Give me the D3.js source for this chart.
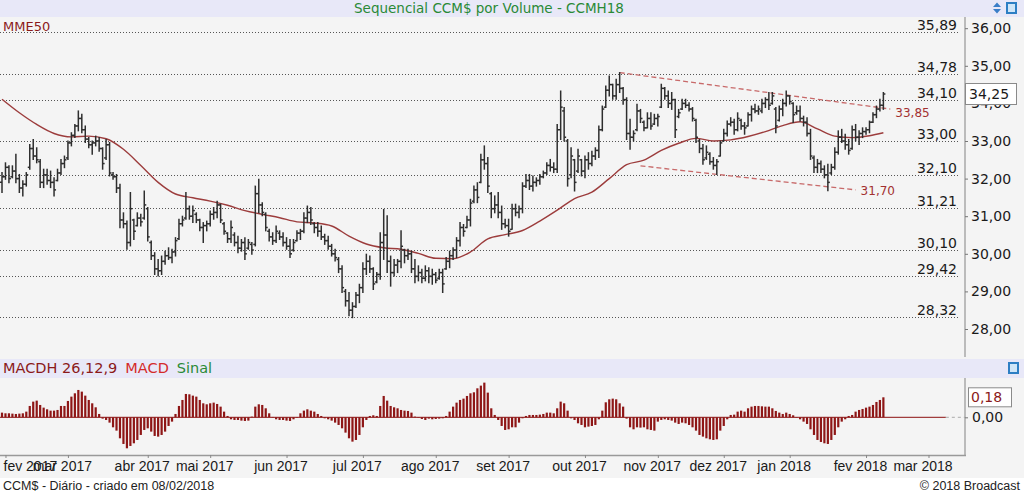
<!DOCTYPE html>
<html><head><meta charset="utf-8">
<script src="https://cdn.jsdelivr.net/npm/d3@7"></script>
<style>body{margin:0;background:#fff;} svg{display:block;}</style>
</head><body><svg id="c" width="1024" height="493"></svg>
<script>
const highs = [32.16,32.42,32.34,32.34,32.65,32.11,31.94,32.16,32.91,33.04,
32.82,32.51,32.25,32.25,32.20,32.02,32.25,32.51,32.60,33.00,
33.22,33.44,33.80,33.71,33.40,33.09,33.00,33.13,33.09,32.82,
33.04,32.96,32.16,32.11,31.85,31.09,30.87,31.63,30.92,31.09,
31.05,31.67,31.23,30.34,30.03,29.85,29.94,30.07,30.16,30.12,
30.43,30.92,31.00,31.63,31.27,31.27,31.09,30.92,30.83,30.87,
31.14,31.23,31.40,31.32,30.83,30.56,30.87,30.56,30.47,30.38,
30.43,30.38,30.30,31.80,31.98,31.36,31.09,30.65,30.56,30.74,
30.61,30.56,30.43,30.38,30.38,30.61,30.65,31.09,31.27,31.23,
30.83,30.83,30.74,30.52,30.47,30.25,30.12,29.90,29.68,29.05,
28.97,28.70,28.97,29.19,29.76,29.99,29.94,29.63,29.50,30.56,
31.18,31.01,29.94,29.85,29.85,30.61,30.12,30.12,30.07,29.85,
29.68,29.59,29.68,29.63,29.59,29.50,29.59,29.59,29.90,30.07,
30.16,30.43,30.83,30.78,31.00,31.45,31.80,31.89,32.65,32.87,
32.56,31.63,31.54,31.63,31.27,30.92,30.92,31.32,31.32,31.27,
31.89,32.11,32.11,32.07,32.02,32.11,32.20,32.42,32.51,32.42,
33.44,34.33,33.89,33.04,32.82,32.51,32.78,32.51,32.60,32.69,
32.73,32.82,33.40,33.93,34.46,34.73,34.51,34.64,34.82,34.42,
34.15,33.58,33.27,33.98,33.84,33.53,33.75,33.75,33.71,33.71,
34.51,34.42,34.33,34.29,34.11,33.84,34.11,34.11,34.02,33.89,
33.58,33.04,32.91,32.87,32.69,32.56,32.51,33.00,33.31,33.53,
33.62,33.58,33.75,33.58,33.49,33.75,33.93,33.98,33.93,34.11,
34.15,34.29,34.29,33.89,33.93,34.11,34.33,34.20,34.02,33.93,
33.93,33.66,33.62,33.31,32.60,32.51,32.47,32.34,32.38,32.38,
32.82,33.27,33.31,33.18,33.04,33.40,33.44,33.27,33.35,33.35,
33.53,33.75,33.93,34.11,34.29];
const lows = [31.63,31.98,31.89,32.02,31.89,31.63,31.54,31.80,32.25,32.51,
32.42,31.76,31.76,31.85,31.76,31.54,31.94,32.11,32.29,32.51,
32.87,33.09,33.27,33.22,32.96,32.82,32.65,32.87,32.73,32.25,
32.51,32.07,31.98,31.63,30.69,30.69,30.12,30.21,30.38,30.74,
30.74,30.92,30.34,29.85,29.45,29.41,29.45,29.72,29.85,29.76,
29.94,30.38,30.74,30.92,30.92,30.83,30.83,30.61,30.30,30.61,
30.74,30.92,30.96,30.83,30.52,30.30,30.30,30.21,30.03,30.07,
29.85,30.12,29.99,30.21,31.09,31.01,30.61,30.34,30.25,30.30,
30.38,30.21,30.12,29.90,30.07,30.34,30.38,30.56,30.83,30.78,
30.56,30.47,30.38,30.25,30.12,29.94,29.81,29.50,28.97,28.61,
28.35,28.30,28.57,28.70,28.97,29.45,29.50,29.05,29.23,29.32,
29.85,29.50,29.14,29.41,29.50,29.63,29.76,29.85,29.50,29.23,
29.28,29.23,29.28,29.23,29.19,29.23,29.32,28.97,29.59,29.63,
29.85,29.90,30.21,30.47,30.69,30.74,31.36,31.36,31.89,32.25,
31.63,30.96,31.09,30.96,30.65,30.69,30.47,30.65,31.01,30.96,
31.09,31.76,31.71,31.67,31.80,31.85,32.02,32.11,32.20,32.16,
32.16,33.04,33.00,31.80,32.02,31.67,32.16,32.07,32.02,32.25,
32.34,32.51,32.56,33.27,33.89,34.20,34.11,34.11,34.29,33.98,
33.04,32.78,33.00,33.27,33.49,33.27,33.35,33.31,33.44,33.40,
33.89,34.11,33.89,33.84,33.09,33.62,33.84,33.89,33.80,33.53,
32.96,32.69,32.38,32.51,32.38,32.25,32.11,32.60,33.00,33.13,
33.40,33.18,33.27,33.31,33.18,33.40,33.53,33.75,33.71,33.75,
33.89,33.84,33.98,33.22,33.53,33.67,33.93,33.98,33.49,33.71,
33.53,33.40,33.13,32.51,32.16,32.16,32.16,32.02,31.68,32.11,
32.25,32.65,32.96,32.78,32.65,32.78,33.00,32.91,33.09,33.18,
33.22,33.49,33.62,33.80,33.84];
const opens = [31.90,32.05,32.30,32.05,32.20,32.00,31.75,31.85,32.30,32.80,
32.60,32.45,31.90,32.10,31.95,31.90,31.95,32.15,32.40,32.55,
32.95,33.15,33.40,33.60,33.30,33.05,32.90,32.95,33.00,32.80,
32.55,32.90,32.10,32.05,31.75,30.90,30.80,30.30,30.90,30.75,
30.95,30.95,31.20,30.30,29.95,29.60,29.55,29.80,29.95,29.90,
30.05,30.40,30.80,30.95,31.20,31.00,31.05,30.90,30.70,30.75,
30.80,31.05,31.10,31.30,30.80,30.55,30.40,30.50,30.30,30.15,
30.30,30.15,30.25,30.25,31.60,31.30,31.05,30.60,30.45,30.35,
30.55,30.45,30.30,30.20,30.10,30.35,30.55,30.60,30.95,31.10,
30.80,30.70,30.60,30.45,30.35,30.20,30.00,29.85,29.60,29.00,
28.75,28.50,28.60,28.90,29.10,29.60,29.80,29.60,29.25,29.45,
30.30,30.50,29.80,29.50,29.70,29.80,30.10,29.95,30.00,29.60,
29.40,29.50,29.35,29.55,29.40,29.45,29.35,29.50,29.60,29.80,
29.95,30.10,30.35,30.70,30.70,30.90,31.40,31.70,31.90,32.50,
32.40,31.60,31.20,31.30,31.10,30.80,30.75,30.65,31.20,31.10,
31.20,31.80,31.95,31.80,31.90,31.95,32.05,32.15,32.35,32.30,
32.25,33.30,33.80,33.00,32.10,32.50,32.20,32.50,32.20,32.50,
32.40,32.60,32.75,33.30,33.90,34.35,34.50,34.20,34.50,34.40,
34.10,33.20,33.10,33.30,33.80,33.50,33.35,33.60,33.45,33.60,
33.90,34.40,34.20,34.00,34.10,33.65,33.85,34.00,33.95,33.85,
33.55,33.00,32.80,32.55,32.65,32.45,32.35,32.60,33.00,33.20,
33.45,33.50,33.30,33.55,33.40,33.40,33.70,33.85,33.80,33.80,
34.00,34.10,34.00,33.85,33.55,33.85,34.00,34.20,34.00,33.75,
33.80,33.60,33.50,33.20,32.55,32.30,32.40,32.25,32.10,32.15,
32.30,32.70,33.10,33.00,32.90,32.80,33.30,33.10,33.20,33.25,
33.30,33.50,33.70,33.85,33.95];
const closes = [32.05,32.30,32.00,32.20,32.00,31.75,31.85,32.10,32.80,32.60,
32.50,31.90,32.10,31.95,31.90,31.70,32.15,32.40,32.50,32.95,
33.15,33.40,33.60,33.30,33.05,32.90,32.95,33.00,32.80,32.40,
32.90,32.15,32.05,31.75,30.90,30.80,30.30,31.20,30.60,30.95,
30.85,31.30,30.45,29.95,29.60,29.55,29.80,29.95,29.90,30.05,
30.35,30.80,30.90,31.20,31.00,31.15,30.90,30.70,30.75,30.80,
31.05,31.10,31.30,30.90,30.60,30.40,30.70,30.30,30.15,30.30,
30.00,30.30,30.10,31.60,31.30,31.10,30.70,30.45,30.35,30.60,
30.45,30.30,30.20,30.00,30.30,30.55,30.60,30.95,31.10,30.90,
30.70,30.60,30.45,30.35,30.20,30.00,29.90,29.60,29.10,28.75,
28.50,28.60,28.90,29.10,29.60,29.80,29.60,29.20,29.45,30.30,
30.50,29.80,29.50,29.70,29.80,30.20,29.95,30.00,29.60,29.40,
29.50,29.35,29.55,29.40,29.45,29.30,29.50,29.20,29.80,29.95,
30.10,30.35,30.70,30.60,30.90,31.35,31.70,31.50,32.50,32.40,
31.80,31.20,31.30,31.10,30.80,30.75,30.60,31.20,31.10,31.20,
31.80,31.95,31.80,31.90,31.95,32.05,32.15,32.35,32.30,32.25,
33.30,33.90,33.10,32.00,32.60,31.90,32.60,32.20,32.50,32.40,
32.60,32.75,33.30,33.85,34.35,34.50,34.20,34.50,34.40,34.10,
33.20,33.10,33.20,33.80,33.60,33.35,33.60,33.40,33.60,33.65,
34.40,34.20,34.00,34.10,33.30,33.75,34.00,33.95,33.85,33.60,
33.10,32.80,32.50,32.70,32.45,32.35,32.45,32.95,33.20,33.45,
33.50,33.30,33.60,33.40,33.35,33.70,33.85,33.80,33.85,34.00,
34.10,33.95,34.20,33.40,33.85,34.00,34.20,34.05,33.70,33.80,
33.60,33.50,33.20,32.60,32.30,32.40,32.25,32.10,31.90,32.30,
32.70,33.10,33.00,32.90,32.75,33.30,33.10,33.20,33.25,33.30,
33.50,33.70,33.85,33.95,34.25];
const maIndex = [0,5,10,15,20,25,30,35,40,45,50,55,60,65,70,75,80,85,90,95,100,105,110,115,120,125,130,135,140,145,150,155,160,165,170,175,180,185,190,195,200,205,210,215,220,225,230,235,240,245,250,254];
const maValues = [34.11,33.75,33.44,33.20,33.11,33.13,33.06,32.78,32.35,31.90,31.59,31.49,31.40,31.29,31.15,31.05,30.96,30.85,30.82,30.74,30.47,30.26,30.16,30.12,30.01,29.88,29.87,30.05,30.40,30.51,30.62,30.87,31.16,31.47,31.64,32.00,32.37,32.49,32.75,32.94,33.07,33.00,33.03,33.12,33.25,33.41,33.51,33.32,33.13,33.09,33.14,33.22];
const macdHist = [0.042,0.036,0.036,0.033,0.030,0.033,0.036,0.051,0.102,0.141,
0.150,0.111,0.087,0.072,0.060,0.060,0.066,0.102,0.102,0.147,
0.186,0.216,0.246,0.231,0.195,0.156,0.126,0.090,0.030,-0.012,
-0.024,-0.048,-0.090,-0.120,-0.189,-0.240,-0.279,-0.258,-0.234,-0.204,
-0.159,-0.114,-0.099,-0.129,-0.168,-0.174,-0.159,-0.129,-0.078,-0.039,
0.030,0.102,0.156,0.210,0.207,0.195,0.186,0.156,0.126,0.117,
0.126,0.132,0.120,0.096,0.051,0.012,-0.018,-0.024,-0.024,-0.030,
-0.033,-0.030,0.006,0.096,0.117,0.111,0.081,0.036,0.003,-0.018,
-0.024,-0.024,-0.030,-0.033,-0.018,0.002,0.036,0.060,0.072,0.060,
0.051,0.030,0.012,-0.009,-0.018,-0.030,-0.048,-0.069,-0.099,-0.138,
-0.189,-0.219,-0.204,-0.159,-0.090,-0.024,0.012,0.018,0.012,0.102,
0.192,0.150,0.102,0.090,0.081,0.066,0.060,0.057,0.042,0.006,
-0.003,-0.015,-0.024,-0.012,-0.018,-0.015,-0.012,-0.009,0.012,0.051,
0.096,0.132,0.156,0.168,0.192,0.216,0.225,0.261,0.285,0.312,
0.222,0.081,0.021,-0.024,-0.078,-0.114,-0.108,-0.090,-0.090,-0.048,
-0.009,0.012,0.021,0.021,0.021,0.024,0.030,0.042,0.042,0.036,
0.081,0.141,0.126,0.060,-0.009,-0.024,-0.054,-0.069,-0.090,-0.084,
-0.078,-0.069,-0.018,0.060,0.135,0.162,0.168,0.162,0.126,0.096,
-0.012,-0.090,-0.108,-0.090,-0.093,-0.090,-0.108,-0.114,-0.120,-0.039,
-0.024,-0.018,-0.024,-0.030,-0.048,-0.060,-0.048,-0.054,-0.069,-0.090,
-0.120,-0.159,-0.174,-0.189,-0.198,-0.204,-0.198,-0.120,-0.078,-0.018,
0.021,0.024,0.051,0.060,0.051,0.081,0.096,0.102,0.102,0.099,
0.096,0.096,0.081,0.057,0.042,0.030,0.042,0.030,0.018,0.002,
-0.018,-0.039,-0.060,-0.108,-0.159,-0.204,-0.222,-0.234,-0.240,-0.204,
-0.159,-0.090,-0.039,-0.018,0.012,0.021,0.051,0.066,0.075,0.087,
0.096,0.111,0.138,0.156,0.180];
const levels = [35.89,34.78,34.10,33.00,32.10,31.21,30.10,29.42,28.32];
const priceTicks = [28,29,30,31,32,33,34,35,36];
const monthLabels = ["fev 2017","mar 2017","abr 2017","mai 2017","jun 2017","jul 2017","ago 2017","set 2017","out 2017","nov 2017","dez 2017","jan 2018","fev 2018","mar 2018"];
const monthIndex = [1,19,42,60,82,104,125,146,168,189,208,227,249,267];
const axisEndIndex = 272;
const trendUpperIdx = [178,256], trendUpperVal = [34.82,33.85];
const trendLowerIdx = [184,246], trendLowerVal = [32.34,31.70];
const lastPrice = 34.25, lastMacd = 0.18;

const fmt = v => d3.format(".2f")(v).replace(".", ",");
const svg = d3.select("#c");
const F = "DejaVu Sans, Verdana, sans-serif";
const F2 = "Liberation Sans, Arial, sans-serif";

// backgrounds
svg.append("rect").attr("width",1024).attr("height",493).attr("fill","#f4f4f4");
svg.append("rect").attr("width",1024).attr("height",17).attr("fill","#e8e8f8");
svg.append("rect").attr("y",359).attr("width",1024).attr("height",19).attr("fill","#e8e8f8");
svg.append("rect").attr("y",478).attr("width",1024).attr("height",15).attr("fill","#ffffff");

const x = d3.scaleLinear().domain([0,254]).range([2, 2+254*3.47]);
const y = d3.scaleLinear().domain([28,36]).range([329,28.2]);
const ym = d3.scaleLinear().domain([0,0.18]).range([417.3,397.3]);

// title
svg.append("text").attr("x",489).attr("y",13).attr("text-anchor","middle")
  .attr("font-family",F).attr("font-size",13.5).attr("fill","#2a8a36")
  .text("Sequencial CCM$ por Volume - CCMH18");
// icons
const ic = svg.append("g");
ic.append("path").attr("d","M993,7 L997,2.5 L1001,7 Z M993,9 L997,13.5 L1001,9 Z").attr("fill","#3a7ec8");
ic.append("rect").attr("x",1006).attr("y",2).attr("width",11).attr("height",12).attr("fill","#2d7fc4");
ic.append("rect").attr("x",1008).attr("y",4).attr("width",7).attr("height",8).attr("fill","#cfe6f8");
ic.append("rect").attr("x",1008).attr("y",362).attr("width",11).attr("height",12).attr("fill","#2d7fc4");
ic.append("rect").attr("x",1010).attr("y",364).attr("width",7).attr("height",8).attr("fill","#cfe6f8");

// level dotted lines + labels
const lv = svg.append("g");
levels.forEach(v=>{
  const yy = Math.round(y(v))+0.5;
  lv.append("line").attr("x1",0).attr("x2",958).attr("y1",yy).attr("y2",yy)
    .attr("stroke","#555").attr("stroke-dasharray","1,2").attr("stroke-width",1);
  lv.append("text").attr("x",957).attr("y",yy-3).attr("text-anchor","end")
    .attr("font-family",F).attr("font-size",14).attr("fill","#1a1a1a").text(fmt(v));
});

// MME50 label
svg.append("text").attr("x",3).attr("y",31).attr("font-family",F).attr("font-size",13)
  .attr("fill","#8b1a1a").text("MME50");

// moving average
const maData = maIndex.map((d,i)=>[d,maValues[i]]);
svg.append("path").datum(maData)
  .attr("d", d3.line().x(d=>x(d[0])).y(d=>y(d[1])).curve(d3.curveMonotoneX))
  .attr("fill","none").attr("stroke","#9c3c3c").attr("stroke-width",1.4);

// trendlines
function trend(idx, val, ly){
  svg.append("line").attr("x1",x(idx[0])).attr("y1",y(val[0])).attr("x2",x(idx[1])).attr("y2",y(val[1]))
    .attr("stroke","#c86a6a").attr("stroke-width",1.3).attr("stroke-dasharray","5,3");
  svg.append("text").attr("x",x(idx[1])+5).attr("y",y(val[1])+ly)
    .attr("font-family",F).attr("font-size",12).attr("fill","#a33030").text(fmt(val[1]));
}
trend(trendUpperIdx, trendUpperVal, 8);
trend(trendLowerIdx, trendLowerVal, 5);

// OHLC bars
const bars = svg.append("g").attr("stroke","#2e2e2e").attr("stroke-width",1.5);
highs.forEach((h,i)=>{
  const xi = x(i);
  bars.append("line").attr("x1",xi).attr("x2",xi).attr("y1",y(h)-0.5).attr("y2",y(lows[i])+0.5);
  bars.append("line").attr("x1",xi-2).attr("x2",xi).attr("y1",y(opens[i])).attr("y2",y(opens[i]));
  bars.append("line").attr("x1",xi).attr("x2",xi+2).attr("y1",y(closes[i])).attr("y2",y(closes[i]));
});

// right price axis
svg.append("line").attr("x1",965).attr("x2",965).attr("y1",17).attr("y2",357).attr("stroke","#a8a8a8").attr("stroke-width",1.5);
const ax = svg.append("g").attr("transform","translate(965,0)")
  .call(d3.axisRight(y).tickValues(priceTicks).tickFormat(fmt).tickSize(3).tickPadding(3));
ax.select(".domain").remove();
ax.selectAll("line").attr("stroke","#777");
ax.selectAll("text").attr("font-family",F).attr("font-size",14).attr("fill","#1a1a1a");

// last price box
svg.append("rect").attr("x",965.5).attr("y",y(lastPrice)-10.5).attr("width",51).attr("height",21)
  .attr("fill","#ffffff").attr("stroke","#8a8a8a");
svg.append("text").attr("x",969).attr("y",y(lastPrice)+5).attr("font-family",F).attr("font-size",14)
  .attr("fill","#1a1a1a").text(fmt(lastPrice));

// MACD header
const hd = svg.append("text").attr("x",3).attr("y",373).attr("font-family",F).attr("font-size",14.5);
hd.append("tspan").attr("fill","#8b1a1a").text("MACDH 26,12,9");
hd.append("tspan").attr("dx",8).attr("fill","#d42a2a").text("MACD");
hd.append("tspan").attr("dx",8).attr("fill","#2a8a36").text("Sinal");

// MACD histogram
const mg = svg.append("g");
mg.append("line").attr("x1",0).attr("x2",x(axisEndIndex)).attr("y1",ym(0)).attr("y2",ym(0))
  .attr("stroke","#8b1010").attr("stroke-width",1);
mg.append("line").attr("x1",x(axisEndIndex)).attr("x2",965).attr("y1",ym(0)).attr("y2",ym(0))
  .attr("stroke","#aaa").attr("stroke-dasharray","3,3");
macdHist.forEach((v,i)=>{
  mg.append("rect").attr("x",x(i)-1.1).attr("width",2.2)
    .attr("y",Math.min(ym(v),ym(0))).attr("height",Math.max(0.5,Math.abs(ym(v)-ym(0))))
    .attr("fill","#8e1616");
});
svg.append("line").attr("x1",965).attr("x2",965).attr("y1",378).attr("y2",455).attr("stroke","#a8a8a8").attr("stroke-width",1.5);
const am = svg.append("g").attr("transform","translate(965,0)")
  .call(d3.axisRight(ym).tickValues([0]).tickFormat(fmt).tickSize(3).tickPadding(4));
am.select(".domain").remove();
am.selectAll("line").attr("stroke","#777");
am.selectAll("text").attr("font-family",F).attr("font-size",14).attr("fill","#1a1a1a");
svg.append("rect").attr("x",968.5).attr("y",ym(lastMacd)-9.5).attr("width",43).attr("height",19)
  .attr("fill","#ffffff").attr("stroke","#8a8a8a");
svg.append("text").attr("x",971).attr("y",ym(lastMacd)+5).attr("font-family",F).attr("font-size",14)
  .attr("fill","#8b1a1a").text(fmt(lastMacd));

// bottom time axis
svg.append("line").attr("x1",0).attr("x2",966).attr("y1",455.5).attr("y2",455.5).attr("stroke","#999").attr("stroke-width",1.5);
const bx = svg.append("g").attr("transform","translate(0,455)")
  .call(d3.axisBottom(x).tickValues(monthIndex).tickFormat((d,i)=>monthLabels[i]).tickSize(3).tickPadding(3));
bx.select(".domain").remove();
bx.selectAll("line").attr("stroke","#888");
bx.selectAll("text").attr("font-family",F2).attr("font-size",14)
  .attr("fill","#1a1a1a").attr("dx",-6);
bx.selectAll("text").filter((d,i)=>i===0).attr("text-anchor","start").attr("dx",0).attr("x",3-x(monthIndex[0]));

// footer
svg.append("text").attr("x",3).attr("y",490).attr("font-family",F2).attr("font-size",12.5)
  .attr("fill","#222").text("CCM$ - Diário - criado em 08/02/2018");
svg.append("text").attr("x",1020).attr("y",490).attr("text-anchor","end").attr("font-family",F2).attr("font-size",12.5)
  .attr("fill","#222").text("© 2018 Broadcast");
</script></body></html>
